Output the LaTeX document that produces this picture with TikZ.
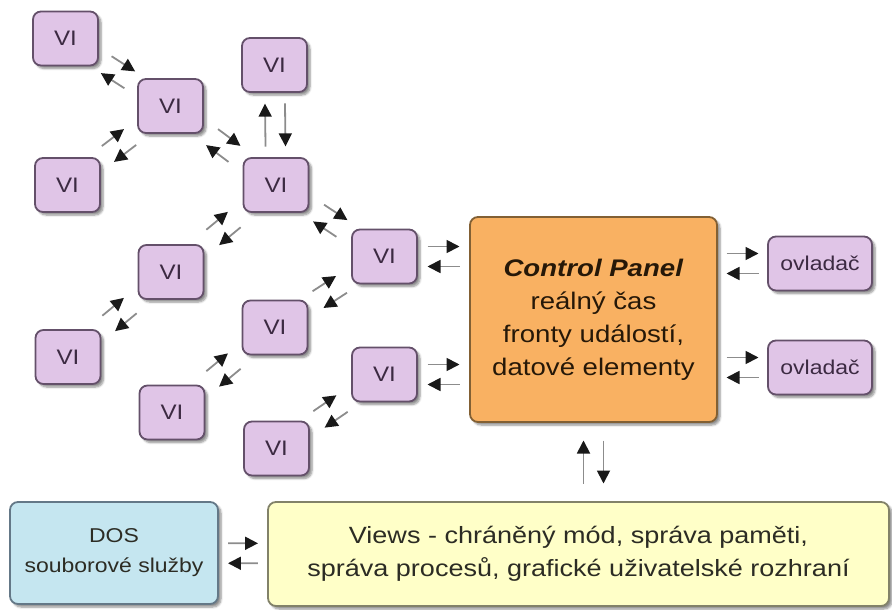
\documentclass[tikz,border=0pt]{standalone}
\usepackage{fontspec}
\setmainfont{Liberation Sans}[FakeStretch=1.15]
\usetikzlibrary{arrows.meta,shadows,shadows.blur,calc}

\definecolor{viFill}{RGB}{224,197,231}
\definecolor{viLine}{RGB}{100,80,106}
\definecolor{viText}{RGB}{60,42,66}
\definecolor{cpFill}{RGB}{249,177,98}
\definecolor{cpLine}{RGB}{130,96,52}
\definecolor{cpText}{RGB}{38,24,8}
\definecolor{viewsFill}{RGB}{255,255,200}
\definecolor{viewsLine}{RGB}{130,130,105}
\definecolor{dosFill}{RGB}{197,230,240}
\definecolor{dosLine}{RGB}{100,120,135}
\definecolor{boxText}{RGB}{44,44,36}

\tikzset{
  box/.style={rounded corners=8pt,draw,line width=1.8pt,align=center,inner sep=0pt,
    blur shadow={shadow xshift=3pt,shadow yshift=-3pt,shadow blur steps=6,shadow opacity=45}},
  vibox/.style={box,fill=viFill,draw=viLine,text=viText,minimum width=65pt,minimum height=54pt,
    font=\fontsize{21}{25}\selectfont},
  ovlbox/.style={vibox,minimum width=104pt,font=\fontsize{20}{24}\selectfont},
  cpbox/.style={box,fill=cpFill,draw=cpLine,text=cpText,minimum width=247pt,minimum height=205pt,
    font=\fontsize{24}{33}\selectfont},
  viewsbox/.style={box,fill=viewsFill,draw=viewsLine,text=boxText,minimum width=621pt,minimum height=104pt,
    font=\fontsize{23.5}{33}\selectfont},
  dosbox/.style={box,fill=dosFill,draw=dosLine,text=boxText,minimum width=208pt,minimum height=102pt,
    font=\fontsize{20}{30}\selectfont},
  pairarrow/.style={-{Triangle[length=13pt,width=13pt,color=black!90]},line width=1.8pt,draw=black!45}
}

\newcommand{\pairarrows}[3][28pt]{%
  \path (#2) -- (#3) coordinate[pos=0.5] (gap);
  \draw[pairarrow] let \p1=($(#3)-(#2)$),\n1={atan2(\y1,\x1)} in
    ($(gap)+(\n1+90:10pt)+(\n1+180:#1/2)$) -- ++(\n1:#1);
  \draw[pairarrow] let \p1=($(#3)-(#2)$),\n1={atan2(\y1,\x1)} in
    ($(gap)+(\n1-90:10pt)+(\n1:#1/2)$) -- ++(\n1+180:#1);
}

\begin{document}
\begin{tikzpicture}[x=1pt,y=-1pt]
                \useasboundingbox (0,0) rectangle (892,610);
                \node[vibox](v1)at(65.5, 38.5){VI};
                \node[vibox](v2)at(170.5, 106){VI};
                \node[vibox](v3)at(274.5, 65){VI};
                \node[vibox](v4)at(67.5, 185){VI};
                \node[vibox](v5)at(276, 185){VI};
                \node[vibox](v6)at(171, 272){VI};
                \node[vibox](v7)at(384.5, 256.5){VI};
                \node[vibox](v8)at(68, 357){VI};
                \node[vibox](v9)at(275, 327.5){VI};
                \node[vibox](v10)at(384.5, 374.5){VI};
                \node[vibox](v11)at(172, 412.5){VI};
                \node[vibox](v12)at(276.5, 448.5){VI};
                \node[cpbox](cp)at(593.5, 319.5){\textbf{\textit{Control Panel}}\\reálný čas\\fronty událostí,\\datové elementy};
                \node[ovlbox](o1)at(820, 263.5){ovladač};
                \node[ovlbox](o2)at(820, 367.5){ovladač};
                \node[dosbox](dos)at(114, 553){DOS\\souborové služby};
                \node[viewsbox](views)at(578.5, 554){Views - chráněný mód, správa paměti,\\správa procesů, grafické uživatelské rozhraní};
                \pairarrows{v1}{v2}
                \pairarrows{v4}{v2}
                \pairarrows{v2}{v5}
                \pairarrows[43pt]{v5}{v3}
                \pairarrows{v6}{v5}
                \pairarrows{v8}{v6}
                \pairarrows{v5}{v7}
                \pairarrows{v9}{v7}
                \pairarrows{v11}{v9}
                \pairarrows{v12}{v10}
                \pairarrows[32pt]{v7}{v7 -| cp.west}
                \pairarrows[32pt]{v10}{v10 -| cp.west}
                \pairarrows[32pt]{cp.east |- o1}{o1}
                \pairarrows[32pt]{cp.east |- o2}{o2}
                \pairarrows[43pt]{cp |- views.north}{cp}
                \pairarrows[30pt]{dos}{views}
            \end{tikzpicture}
\end{document}
